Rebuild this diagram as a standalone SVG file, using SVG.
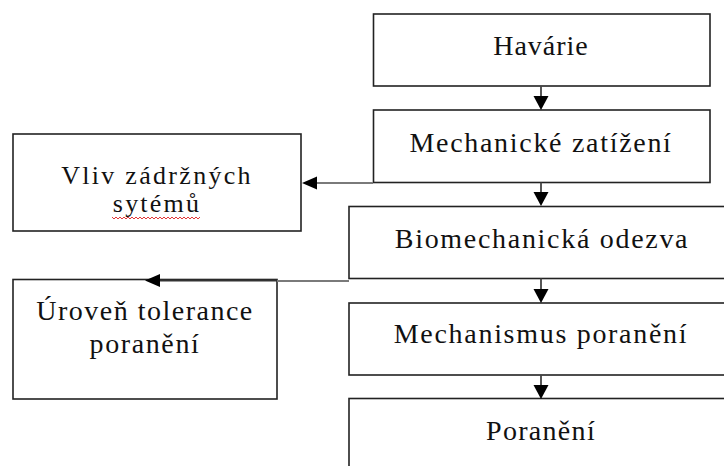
<svg xmlns="http://www.w3.org/2000/svg" width="724" height="466" viewBox="0 0 724 466">
<style>
.box{fill:#fff;stroke:#222;stroke-width:1.6}
.t{font-family:'Liberation Serif','Times New Roman',serif;font-size:28px;fill:#111;text-anchor:middle}
.s{font-size:26px}
.con{stroke:#7a7a7a;stroke-width:2.2;fill:none}
.vcon{stroke:#444;stroke-width:1.8;fill:none}
.head{fill:#000}
</style>
<rect width="724" height="466" fill="#fff"/>
<g id="havarie">
<rect class="box" x="373.5" y="14" width="336.5" height="72"/>
<text class="t" x="541" y="54.5" style="letter-spacing:1px">Havárie</text>
</g>
<g id="mechanicke">
<rect class="box" x="373.5" y="110" width="336.5" height="72.5"/>
<text class="t" x="541" y="152" style="letter-spacing:1.7px">Mechanické zatížení</text>
</g>
<g id="biomechanicka">
<rect class="box" x="349" y="206.5" width="400" height="72"/>
<text class="t" x="542" y="248" style="letter-spacing:1.7px">Biomechanická odezva</text>
</g>
<g id="mechanismus">
<rect class="box" x="349" y="303" width="400" height="72"/>
<text class="t" x="541" y="343" style="letter-spacing:1.7px">Mechanismus poranění</text>
</g>
<g id="poraneni">
<rect class="box" x="349" y="398.5" width="400" height="100"/>
<text class="t" x="541" y="440" style="letter-spacing:1.3px">Poranění</text>
</g>
<g id="vliv">
<rect class="box" x="13" y="134" width="288" height="97"/>
<text class="t s" x="157" y="184" style="letter-spacing:2.3px">Vliv zádržných</text>
<text class="t s" x="157" y="212" style="letter-spacing:2.2px">sytémů</text>
<polyline points="112,217 114,219 116,217 118,219 120,217 122,219 124,217 126,219 128,217 130,219 132,217 134,219 136,217 138,219 140,217 142,219 144,217 146,219 148,217 150,219 152,217 154,219 156,217 158,219 160,217 162,219 164,217 166,219 168,217 170,219 172,217 174,219 176,217 178,219 180,217 182,219 184,217 186,219 188,217 190,219 192,217 194,219 196,217 198,219 200,217" fill="none" stroke="#e02020" stroke-width="0.9"/>
</g>
<g id="uroven">
<rect class="box" x="13" y="279.5" width="264" height="119.5"/>
<text class="t" x="145" y="320" style="letter-spacing:1.5px">Úroveň tolerance</text>
<text class="t" x="145" y="353" style="letter-spacing:1.6px">poranění</text>
</g>
<g id="connectors">
<line class="con" x1="373" y1="183" x2="314" y2="183"/>
<polygon class="head" points="302,183 317,176.5 317,189.5"/>
<line class="con" x1="349" y1="281" x2="277" y2="281"/>
<line x1="277" y1="280.5" x2="158" y2="280.5" stroke="#333" stroke-width="2"/>
<polygon class="head" points="145,280.5 160,274 160,287"/>
<line class="vcon" x1="541" y1="86" x2="541" y2="98"/>
<polygon class="head" points="541,110 533.5,96 548.5,96"/>
<line class="vcon" x1="541" y1="182.5" x2="541" y2="194"/>
<polygon class="head" points="541,206 533.5,192 548.5,192"/>
<line class="vcon" x1="541" y1="278.5" x2="541" y2="291"/>
<polygon class="head" points="541,303 533.5,289 548.5,289"/>
<line class="vcon" x1="541" y1="375" x2="541" y2="387"/>
<polygon class="head" points="541,399 533.5,385 548.5,385"/>
</g>
</svg>
